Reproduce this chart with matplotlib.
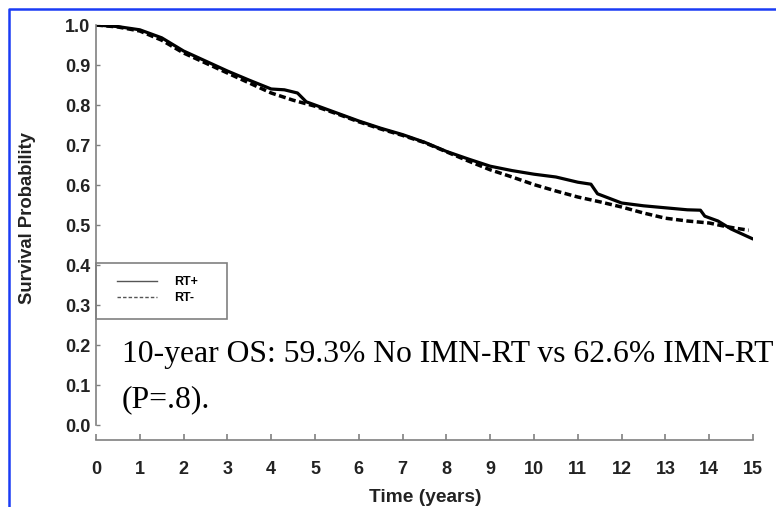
import numpy as np
import matplotlib.pyplot as plt
from matplotlib.lines import Line2D
from matplotlib.patches import Rectangle

# survival (time in years)
t_plus = [0, 0.5, 1.0, 1.5, 2.0, 2.5, 3.0, 3.5, 4.0, 4.3, 4.6, 4.8, 5.0, 5.5, 6.0, 6.5, 7.0, 7.5,
          8.0, 8.5, 9.0, 9.5, 10.0, 10.5, 11.0, 11.3, 11.45, 12.0, 12.5, 13.0, 13.5, 13.8, 13.9,
          14.2, 14.5, 14.8, 15.0]
s_plus = [1.0, 0.996, 0.988, 0.968, 0.935, 0.91, 0.885, 0.862, 0.84, 0.838, 0.83, 0.808, 0.80,
          0.78, 0.76, 0.742, 0.726, 0.707, 0.684, 0.665, 0.647, 0.636, 0.627, 0.62, 0.607, 0.602,
          0.578, 0.555, 0.548, 0.543, 0.538, 0.537, 0.522, 0.51, 0.49, 0.475, 0.465]

t_minus = [0, 0.5, 1.0, 1.5, 2.0, 2.5, 3.0, 3.5, 4.0, 4.5, 5.0, 5.5, 6.0, 6.5, 7.0, 7.5, 8.0, 8.5,
           9.0, 9.5, 10.0, 10.5, 11.0, 11.5, 12.0, 12.5, 13.0, 13.5, 14.0, 14.3, 14.6, 14.9]
s_minus = [1.0, 0.995, 0.985, 0.962, 0.93, 0.905, 0.88, 0.855, 0.83, 0.812, 0.797, 0.778, 0.758,
           0.74, 0.724, 0.706, 0.683, 0.66, 0.638, 0.62, 0.601, 0.585, 0.57, 0.558, 0.545, 0.53,
           0.517, 0.51, 0.505, 0.498, 0.492, 0.487]

x_ticks = list(range(0, 16))
y_ticks = [0.0, 0.1, 0.2, 0.3, 0.4, 0.5, 0.6, 0.7, 0.8, 0.9, 1.0]
labels = ["RT+", "RT-"]
note1 = "10-year OS: 59.3% No IMN-RT vs 62.6% IMN-RT"
note2 = "(P=.8)."

W, H = 776, 507
fig = plt.figure(figsize=(W / 100, H / 100), dpi=100)
ax = fig.add_axes([96 / W, 82 / H, 657 / W, 400 / H])

ax.plot(t_plus, s_plus, color="black", lw=2.3, solid_capstyle="round")
ax.plot(t_minus, s_minus, color="black", lw=2.5, ls=(0, (2.0, 1.0)))

ax.set_xlim(0, 15)
ax.set_ylim(0, 1)
ax.set_xticks(x_ticks)
ax.set_yticks(y_ticks)
ax.set_yticklabels([f"{v:.1f}" for v in y_ticks])

grey = "#808080"
for s in ["top", "right"]:
    ax.spines[s].set_visible(False)
ax.spines["left"].set_color(grey)
ax.spines["left"].set_linewidth(1.2)
ax.spines["bottom"].set_color(grey)
ax.spines["bottom"].set_linewidth(1.2)
ax.spines["bottom"].set_position(("outward", 11))

ax.tick_params(axis="x", direction="in", length=4, width=1.2, color=grey, pad=15)
ax.tick_params(axis="y", direction="in", length=3, width=1, color=grey, pad=4)
for lab in ax.get_xticklabels() + ax.get_yticklabels():
    lab.set_fontfamily("Liberation Sans")
    lab.set_fontweight("bold")
    lab.set_fontsize(13)
    lab.set_color("#222222")

fig.text(28 / W, 1 - 218 / H, "Survival Probability", rotation=90, ha="center", va="center",
         fontfamily="Liberation Sans", fontweight="bold", fontsize=13.3, color="#222222")
fig.text(425 / W, 1 - 497 / H, "Time (years)", ha="center", va="center",
         fontfamily="Liberation Sans", fontweight="bold", fontsize=13.8, color="#222222")

# legend box
ax.add_patch(Rectangle((0, 0.265), 0.2, 0.14, transform=ax.transAxes, fill=False,
                       edgecolor=grey, lw=1.2, clip_on=False))
handles = [Line2D([], [], color="#555555", lw=1.0),
           Line2D([], [], color="#555555", lw=1.0, ls=(0, (2.5, 1.5)))]
ax.legend(handles, labels, loc="upper left", bbox_to_anchor=(0.015, 0.4), frameon=False,
          handlelength=3.2, handletextpad=1.4, labelspacing=0.3,
          prop={"family": "Liberation Sans", "weight": "bold", "size": 9})

fig.text(122 / W, 1 - 362 / H, note1, fontfamily="Liberation Serif", fontsize=22.8, va="baseline")
fig.text(122 / W, 1 - 407 / H, note2, fontfamily="Liberation Serif", fontsize=22.8, va="baseline")

# blue frame (top and left edges visible)
fig.add_artist(Line2D([8.5 / W, 8.5 / W, 1.0], [0.0, 1 - 9 / H, 1 - 9 / H],
                      transform=fig.transFigure, color="#1a3cf5", lw=1.8))

fig.savefig("out.png", dpi=100)
